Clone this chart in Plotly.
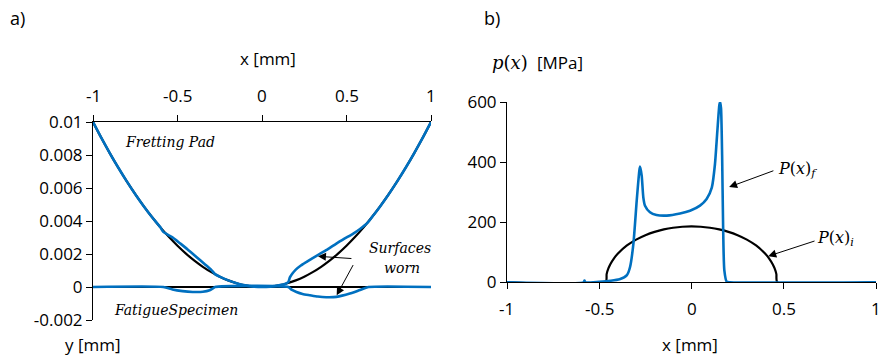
import plotly.graph_objects as go

# ---- (a) surface profiles [mm] ----
pad_x = [-1.0, -0.95, -0.9, -0.85, -0.8, -0.75, -0.7, -0.65, -0.6, -0.55, -0.5, -0.45, -0.4,
         -0.35, -0.3, -0.25, -0.2, -0.15, -0.1, -0.05, 0.0, 0.05, 0.1, 0.15, 0.2, 0.25, 0.3,
         0.35, 0.4, 0.45, 0.5, 0.55, 0.6, 0.65, 0.7, 0.75, 0.8, 0.85, 0.9, 0.95, 1.0]
pad_initial = [0.01, 0.009025, 0.0081, 0.007225, 0.0064, 0.005625, 0.0049, 0.004225, 0.0036,
               0.003025, 0.0025, 0.002025, 0.0016, 0.001225, 0.0009, 0.000625, 0.0004,
               0.000225, 0.0001, 0.000025, 0.0, 0.000025, 0.0001, 0.000225, 0.0004, 0.000625,
               0.0009, 0.001225, 0.0016, 0.002025, 0.0025, 0.003025, 0.0036, 0.004225, 0.0049,
               0.005625, 0.0064, 0.007225, 0.0081, 0.009025, 0.01]

worn_pad_x = [-1.0, -0.95, -0.9, -0.85, -0.8, -0.75, -0.7, -0.65, -0.6, -0.584, -0.53, -0.485,
              -0.44, -0.39, -0.34, -0.3, -0.278, -0.25, -0.2, -0.15, -0.1, -0.05, 0.0, 0.05, 0.1,
              0.14, 0.156, 0.165, 0.18, 0.2, 0.23, 0.26, 0.3, 0.34, 0.39, 0.44, 0.49, 0.54, 0.58,
              0.625, 0.65, 0.7, 0.75, 0.8, 0.85, 0.9, 0.95, 1.0]
worn_pad = [0.01, 0.009025, 0.0081, 0.007225, 0.0064, 0.005625, 0.0049, 0.004225, 0.0036,
            0.00334, 0.00301, 0.00265, 0.00228, 0.00184, 0.00140, 0.00104, 0.00078, 0.000625,
            0.0004, 0.000225, 0.0001, 0.000025, 0.0, 0.000025, 0.0001, 0.0002, 0.0003, 0.00058,
            0.00082, 0.00105, 0.0013, 0.0015, 0.00175, 0.002, 0.0023, 0.00263, 0.00294, 0.00324,
            0.00352, 0.0039, 0.004225, 0.0049, 0.005625, 0.0064, 0.007225, 0.0081, 0.009025, 0.01]

spec_x = [-1.0, 1.0]
spec_initial = [0.0, 0.0]

worn_spec_x = [-1.0, -0.584, -0.53, -0.47, -0.41, -0.35, -0.31, -0.29, -0.278, 0.156, 0.175,
               0.204, 0.24, 0.284, 0.33, 0.38, 0.44, 0.52, 0.58, 0.63, 1.0]
worn_spec = [0.0, 0.0, -0.00015, -0.00025, -0.0003, -0.00029, -0.0002, -0.00008, 0.0, 0.0,
             -0.00016, -0.0003, -0.00042, -0.0005, -0.00058, -0.00062, -0.0006, -0.0004,
             -0.00018, 0.0, 0.0]

# ---- (b) contact pressure [MPa] ----
p_init_x = [-1.0, -0.465, -0.46, -0.45, -0.44, -0.42, -0.4, -0.35, -0.3, -0.25, -0.2, -0.15,
            -0.1, -0.05, 0.0, 0.05, 0.1, 0.15, 0.2, 0.25, 0.3, 0.35, 0.4, 0.42, 0.44, 0.45,
            0.46, 0.465, 1.0]
p_init = [0, 0, 27.2, 46.9, 60.2, 79.8, 94.8, 122.5, 142.1, 156.8, 167.9, 176.1, 181.6, 184.9,
          186.0, 184.9, 181.6, 176.1, 167.9, 156.8, 142.1, 122.5, 94.8, 79.8, 60.2, 46.9, 27.2,
          0, 0]

p_fin_x = [-1.0, -0.585, -0.58, -0.575, -0.5, -0.44, -0.39, -0.35, -0.333, -0.315, -0.297,
           -0.283, -0.279, -0.27, -0.261, -0.252, -0.225, -0.19, -0.134, -0.062, -0.008, 0.046,
           0.082, 0.11, 0.127, 0.14, 0.151, 0.155, 0.16, 0.166, 0.171, 0.178, 0.191, 0.21, 1.0]
p_fin = [0, 0, 6, 0, 2, 5, 10, 24, 51, 128, 271, 370, 385, 355, 282, 255, 233, 224, 222, 229,
         238, 255, 277, 315, 392, 502, 590, 600, 580, 420, 200, 40, 2, 0, 0]

# tick labels
xa_vals = [-1, -0.5, 0, 0.5, 1]
xa_text = ["-1", "-0.5", "0", "0.5", "1"]
ya_vals = [0.01, 0.008, 0.006, 0.004, 0.002, 0, -0.002]
ya_text = ["0.01", "0.008", "0.006", "0.004", "0.002", "0", "-0.002"]
yb_vals = [0, 200, 400, 600]
yb_text = ["0", "200", "400", "600"]

BLUE = "#0070C0"
BLACK = "#000000"
W, H = 884, 359
SANS = "Open Sans"
SERIF = "DejaVu Serif"
TICK_FONT = dict(family=SANS, size=17, color=BLACK)

fig = go.Figure()

def line(x, y, color, width, xa, ya):
    fig.add_trace(go.Scatter(x=x, y=y, mode="lines", xaxis=xa, yaxis=ya,
                             line=dict(color=color, width=width, shape="spline", smoothing=0.6),
                             hoverinfo="skip", showlegend=False))

line(pad_x, pad_initial, BLACK, 2.2, "x", "y")
line(spec_x, spec_initial, BLACK, 2.2, "x", "y")
line(worn_pad_x, worn_pad, BLUE, 2.6, "x", "y")
line(worn_spec_x, worn_spec, BLUE, 2.6, "x", "y")

line(p_init_x, p_init, BLACK, 2.2, "x2", "y2")
line(p_fin_x, p_fin, BLUE, 2.6, "x2", "y2")

axis_common = dict(showgrid=False, zeroline=False, showline=True, linecolor=BLACK, linewidth=1,
                   ticks="outside", ticklen=6, tickcolor=BLACK, tickwidth=1, automargin=False,
                   tickfont=TICK_FONT, tickmode="array")

def px2paper_x(px):
    return px / W

def px2paper_y(py):
    return 1 - py / H

fig.update_layout(
    width=W, height=H, autosize=False,
    margin=dict(l=0, r=0, t=0, b=0, pad=0),
    paper_bgcolor="white", plot_bgcolor="white",
    xaxis=dict(axis_common, domain=[px2paper_x(93), px2paper_x(431)], range=[-1, 1],
               side="top", anchor="y", tickvals=xa_vals, showticklabels=False),
    yaxis=dict(axis_common, domain=[px2paper_y(320), px2paper_y(122)], range=[-0.002, 0.01],
               anchor="x", tickvals=ya_vals, ticktext=ya_text),
    xaxis2=dict(axis_common, domain=[px2paper_x(507), px2paper_x(876)], range=[-1, 1],
                anchor="y2", tickvals=xa_vals, showticklabels=False),
    yaxis2=dict(axis_common, domain=[px2paper_y(282.3), px2paper_y(102)], range=[0, 600],
                anchor="x2", tickvals=yb_vals, ticktext=yb_text),
)

# x tick labels, placed at a fixed distance from their axis line
for v, t in zip(xa_vals, xa_text):
    fig.add_annotation(text=t, x=v, xref="x", y=px2paper_y(122), yref="paper",
                       yshift=26, xanchor="center", yanchor="middle", showarrow=False,
                       font=TICK_FONT)
    fig.add_annotation(text=t, x=v, xref="x2", y=px2paper_y(282.3), yref="paper",
                       yshift=-26, xanchor="center", yanchor="middle", showarrow=False,
                       font=TICK_FONT)

def label(text, px, py, family=SANS, size=17):
    fig.add_annotation(text=text, xref="paper", yref="paper", x=px2paper_x(px), y=px2paper_y(py),
                       xanchor="center", yanchor="middle", showarrow=False,
                       font=dict(family=family, size=size, color=BLACK))

label("a)", 17.5, 18, size=18)
label("b)", 491.7, 18, size=18)
label("x [mm]", 268, 59)
label("y [mm]", 93.3, 344)
label("x [mm]", 690.3, 344)
label("<i>p</i>(<i>x</i>)", 510, 62, family=SERIF, size=18)
label("[MPa]", 560, 62)

def note(text, x, y, xa, ya, size=14):
    fig.add_annotation(text=text, x=x, y=y, xref=xa, yref=ya, showarrow=False,
                       xanchor="center", yanchor="middle",
                       font=dict(family=SERIF, size=size, color=BLACK))

note("<i>Fretting Pad</i>", -0.547, 0.00879, "x", "y")
note("<i>FatigueSpecimen</i>", -0.509, -0.00141, "x", "y")
note("<i>Surfaces</i>", 0.817, 0.00235, "x", "y")
note("<i>worn</i>", 0.83, 0.00113, "x", "y")
note("<i>P</i>(<i>x</i>)<sub><i>f</i></sub>", 0.572, 376, "x2", "y2", size=16)
note("<i>P</i>(<i>x</i>)<sub><i>i</i></sub>", 0.783, 146, "x2", "y2", size=16)

def arrow(x, y, tx, ty, xa, ya):
    fig.add_annotation(text="", x=x, y=y, ax=tx, ay=ty, xref=xa, yref=ya, axref=xa, ayref=ya,
                       showarrow=True, arrowhead=2, arrowsize=1.6, arrowwidth=1,
                       arrowcolor=BLACK, standoff=0, startstandoff=0)

arrow(0.331, 0.00186, 0.538, 0.00172, "x", "y")
arrow(0.442, -0.0005, 0.544, 0.00142, "x", "y")
arrow(0.204, 317, 0.452, 373, "x2", "y2")
arrow(0.416, 87, 0.675, 139, "x2", "y2")

fig.write_html("out.html")
